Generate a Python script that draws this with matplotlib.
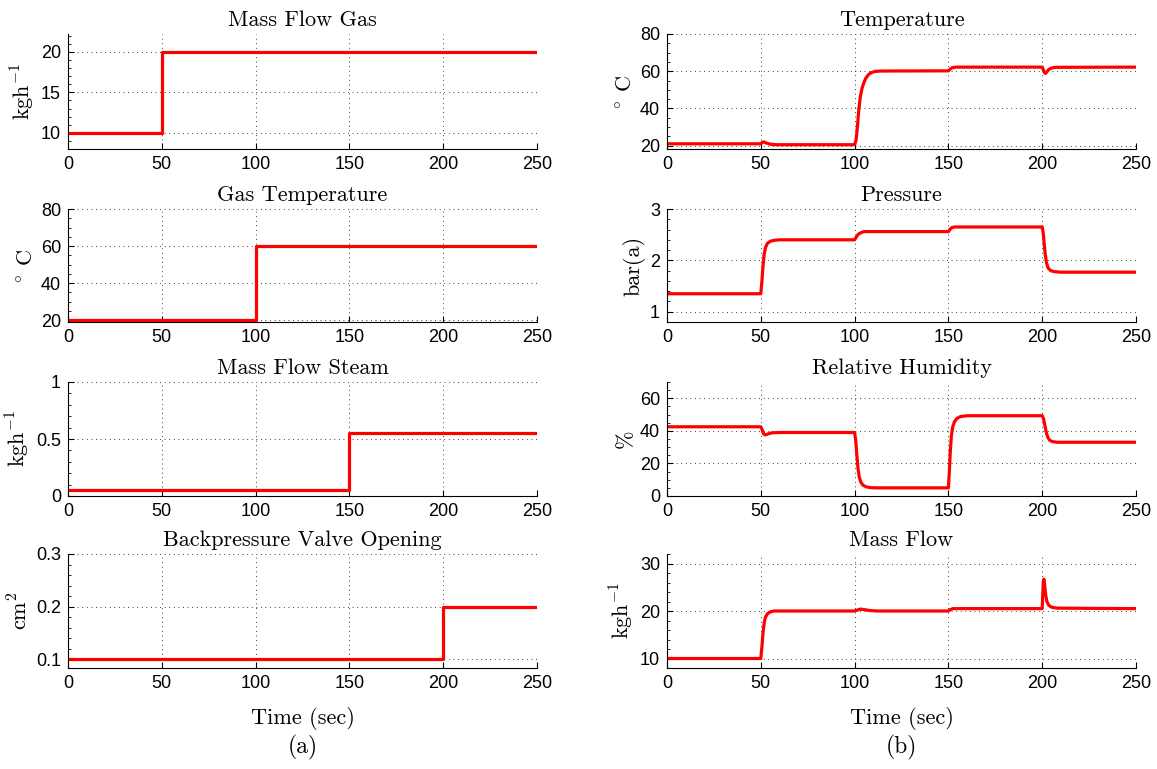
import matplotlib
matplotlib.use("Agg")
import matplotlib.pyplot as plt
from matplotlib.ticker import AutoMinorLocator, FuncFormatter

plt.rcParams["font.family"] = ["Liberation Sans", "DejaVu Sans"]
plt.rcParams["mathtext.fontset"] = "cm"
plt.rcParams["axes.unicode_minus"] = False

SERIF = "cmr10"
RED = "#ff0000"

# ---------------------------------------------------------- (a) inputs (steps)
gas_flow_t = [0, 50, 250]
gas_flow_v = [10, 20, 20]
gas_temp_t = [0, 100, 250]
gas_temp_v = [20, 60, 60]
steam_t = [0, 150, 250]
steam_v = [0.05, 0.55, 0.55]
valve_t = [0, 200, 250]
valve_v = [0.1, 0.2, 0.2]

# ---------------------------------------------------------- (b) responses
temp_t = [0, 50, 50.8, 51.5, 53, 55, 58, 100, 100.8, 101.5, 102.2, 103, 104,
          105, 106, 107.5, 109, 111, 114, 150, 150.8, 151.6, 152.5, 154, 200,
          200.6, 201.2, 201.8, 202.6, 203.5, 205, 207, 250]
temp_v = [21, 21, 21.8, 22, 21.4, 20.8, 20.5, 20.5, 23, 30, 39, 46, 51,
          54, 56.3, 58.3, 59.3, 59.9, 60.1, 60.2, 61, 61.7, 62, 62.2, 62.2,
          60.8, 59.2, 58.8, 59.8, 60.9, 61.7, 62.1, 62.2]

pres_t = [0, 50, 50.6, 51.2, 51.8, 52.5, 53.5, 55, 57, 60, 100, 101, 102,
          103.5, 105, 150, 151, 152, 153.5, 200, 200.5, 201, 201.6, 202.3,
          203.2, 204.5, 206.5, 210, 250]
pres_v = [1.35, 1.35, 1.6, 1.9, 2.12, 2.25, 2.33, 2.37, 2.39, 2.40, 2.40,
          2.46, 2.51, 2.54, 2.56, 2.56, 2.61, 2.64, 2.65, 2.65, 2.55, 2.35,
          2.12, 1.95, 1.85, 1.80, 1.78, 1.77, 1.77]

hum_t = [0, 50, 50.8, 51.6, 52.5, 54, 56, 60, 100, 100.6, 101.2, 101.8, 102.5,
         103.3, 104.5, 106, 108, 111, 150, 150.5, 151, 151.6, 152.3, 153.2,
         154.5, 156.5, 160, 200, 200.7, 201.4, 202.2, 203, 204, 205.5, 208,
         250]
hum_v = [42.5, 42.5, 40.5, 38, 37.5, 38.2, 38.8, 39, 39, 34, 25, 17, 11.5,
         8.5, 6.6, 5.7, 5.2, 5, 5, 15, 27, 37, 42.5, 45.5, 47.6, 48.8, 49.3,
         49.3, 47.5, 43.5, 39, 36, 34.2, 33.4, 33, 33]

mflow_t = [0, 50, 50.6, 51.2, 51.8, 52.5, 53.5, 55, 57, 60, 100, 101.5, 103,
           105, 108, 112, 150, 151, 152.5, 200, 200.3, 200.6, 200.9, 201.3,
           201.8, 202.5, 203.5, 205, 208, 250]
mflow_v = [10, 10, 12.5, 15.5, 17.5, 18.7, 19.4, 19.8, 20, 20, 20, 20.2,
           20.4, 20.3, 20.1, 20, 20, 20.3, 20.5, 20.5, 23.5, 26.2, 26.7, 25.5,
           23.5, 22, 21.2, 20.8, 20.6, 20.5]

DEG = r"$^{\circ}$ C"
KGH = r"kgh$^{-1}$"

panels = [
    # column, row, title, ylabel, t, v, steps, ylim, yticks
    (0, 0, "Mass Flow Gas", KGH, gas_flow_t, gas_flow_v, True, (8, 22.2), [10, 15, 20]),
    (0, 1, "Gas Temperature", DEG, gas_temp_t, gas_temp_v, True, (19, 80), [20, 40, 60, 80]),
    (0, 2, "Mass Flow Steam", KGH, steam_t, steam_v, True, (0, 1), [0, 0.5, 1]),
    (0, 3, "Backpressure Valve Opening", r"cm$^{2}$", valve_t, valve_v, True, (0.083, 0.3), [0.1, 0.2, 0.3]),
    (1, 0, "Temperature", DEG, temp_t, temp_v, False, (18.2, 80), [20, 40, 60, 80]),
    (1, 1, "Pressure", "bar(a)", pres_t, pres_v, False, (0.8, 3), [1, 2, 3]),
    (1, 2, "Relative Humidity", "%", hum_t, hum_v, False, (0, 70), [0, 20, 40, 60]),
    (1, 3, "Mass Flow", KGH, mflow_t, mflow_v, False, (8, 32), [10, 20, 30]),
]

W, H = 1157, 769
col_x = [(68, 537), (667, 1136)]
row_y = [(34, 149), (209, 322), (382, 496), (554, 668)]

fig = plt.figure(figsize=(W / 100, H / 100), dpi=100)
fmt = FuncFormatter(lambda v, p: f"{v:g}")

for col, row, title, ylab, t, v, steps, ylim, yticks in panels:
    x0, x1 = col_x[col]
    top, bot = row_y[row]
    ax = fig.add_axes([x0 / W, 1 - bot / H, (x1 - x0) / W, (bot - top) / H])
    ax.plot(t, v, color=RED, lw=2.3, drawstyle="steps-post" if steps else "default")
    ax.set_xlim(0, 250)
    ax.set_ylim(*ylim)
    ax.set_xticks([0, 50, 100, 150, 200, 250])
    ax.set_yticks(yticks)
    ax.yaxis.set_major_formatter(fmt)
    ax.yaxis.set_minor_locator(AutoMinorLocator())
    ax.spines["top"].set_visible(False)
    ax.spines["right"].set_visible(False)
    for s in ("left", "bottom"):
        ax.spines[s].set_linewidth(0.8)
    ax.tick_params(which="major", direction="in", length=4, width=0.8,
                   labelsize=13, pad=5)
    ax.tick_params(which="minor", direction="in", length=2.5, width=0.6)
    ax.grid(True, which="major", color="k", linestyle=(0, (1, 4.5)), lw=0.6)
    ax.set_title(title, fontfamily=SERIF, fontsize=16, pad=6)
    ax.set_ylabel(ylab, fontfamily=SERIF, fontsize=16, labelpad=3)
    if row == 3:
        ax.set_xlabel("Time (sec)", fontfamily=SERIF, fontsize=16, labelpad=11)
        ax.text(0.5, -0.7, "(a)" if col == 0 else "(b)", transform=ax.transAxes,
                ha="center", va="center", fontfamily=SERIF, fontsize=17)

fig.savefig("out.png", dpi=100)
